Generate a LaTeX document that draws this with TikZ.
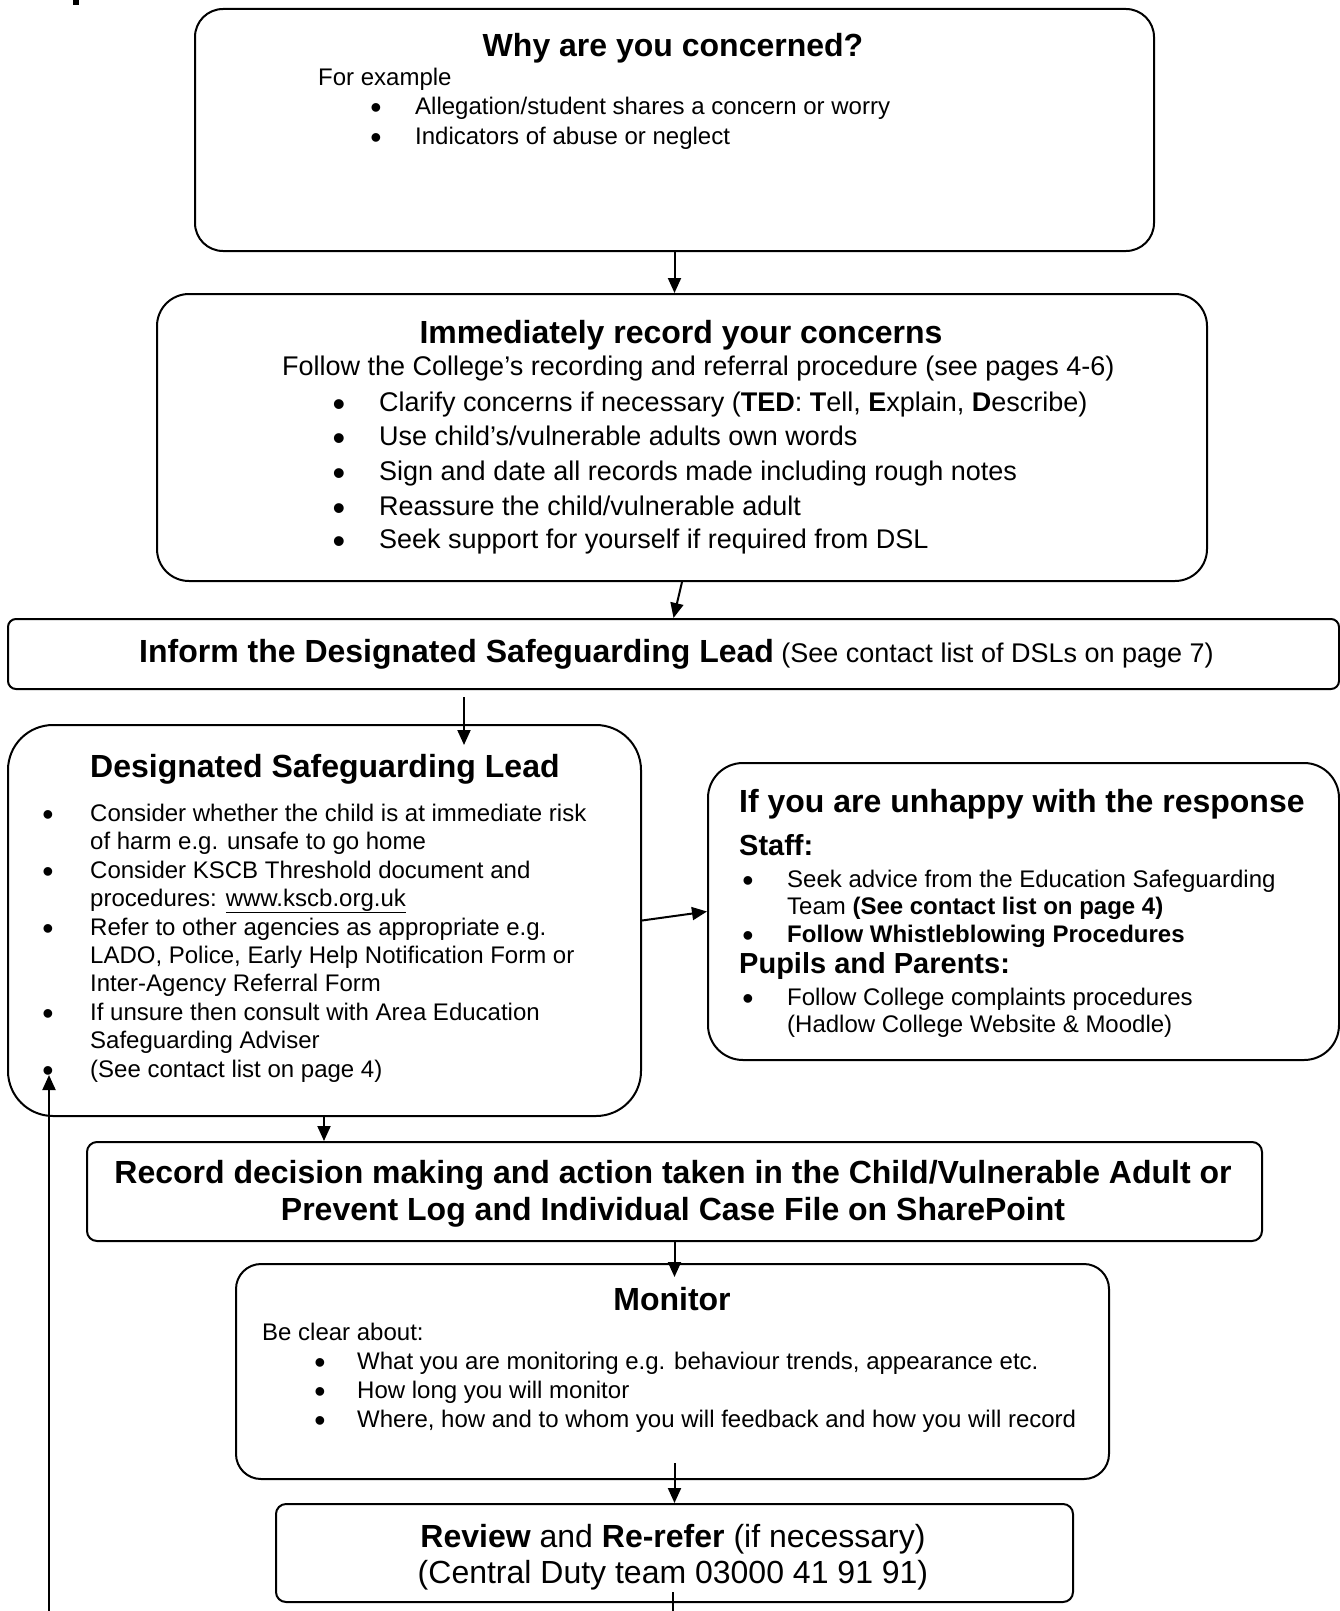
\documentclass[tikz,border=0pt]{standalone}
\usepackage{fontspec}
\setmainfont{Liberation Sans}
\usetikzlibrary{arrows.meta,calc}
\newcommand\fhead{\fontsize{32}{37}\selectfont\bfseries}
\newcommand\fsubh{\fontsize{29}{34}\selectfont\bfseries}
\newcommand\fbody{\fontsize{24}{28}\selectfont}
\newcommand\fmid{\fontsize{27}{32}\selectfont}
\tikzset{
  box/.style={draw, line width=2pt, anchor=north west, inner sep=0pt},
  txt/.style={inner sep=0pt, anchor=base west},
  ctxt/.style={inner sep=0pt, anchor=base},
  bul/.style={inner sep=0pt, anchor=base, yshift=-4pt, font=\fontsize{32}{32}\selectfont},
  bulm/.style={inner sep=0pt, anchor=base, yshift=-5pt, font=\fontsize{36}{36}\selectfont},
  arr/.style={line width=2pt, -{Triangle[length=15pt,width=13pt]}},
  conn/.style={line width=2pt},
}
\begin{document}
\begin{tikzpicture}[x=1pt,y=-1pt]
\useasboundingbox (0,0) rectangle (1339,1611);
\fill (73,0) rectangle (79,5);

% boxes
\node[box, rounded corners=28pt, minimum width=959pt, minimum height=242pt] (b1) at (194,8) {};
\node[box, rounded corners=32pt, minimum width=1050pt, minimum height=287pt] (b2) at (156,293) {};
\node[box, rounded corners=8pt, minimum width=1331pt, minimum height=70pt] (b3) at (7,618) {};
\node[box, rounded corners=45pt, minimum width=633pt, minimum height=391pt] (b4) at (7,724) {};
\node[box, rounded corners=35pt, minimum width=631pt, minimum height=297pt] (b5) at (707,762) {};
\node[box, rounded corners=10pt, minimum width=1175pt, minimum height=99pt] (b6) at (86,1141) {};
\node[box, rounded corners=25pt, minimum width=873pt, minimum height=215pt] (b7) at (235,1263) {};
\node[box, rounded corners=10pt, minimum width=797pt, minimum height=98pt] (b8) at (275,1503) {};

% box 1
\node[ctxt, font=\fhead] (t1h) at (673,57) {Why are you concerned?};
\node[txt, font=\fbody] (t1a) at (318,85) {For example};
\node[bul] (t1b1) at (376,114) {•};
\node[txt, font=\fbody] (t1b) at (415,114) {Allegation/student shares a concern or worry};
\node[bul] (t1c1) at (376,144) {•};
\node[txt, font=\fbody] (t1c) at (415,144) {Indicators of abuse or neglect};

% box 2
\node[ctxt, font=\fhead] (t2h) at (681,343) {Immediately record your concerns};
\node[txt, font=\fmid] (t2a) at (282,375) {Follow the College’s recording and referral procedure (see pages 4-6)};
\node[bulm] (t2b1) at (339,411) {•};
\node[txt, font=\fmid] (t2b) at (379,411) {Clarify concerns if necessary (\textbf{TED}: \textbf{T}ell, \textbf{E}xplain, \textbf{D}escribe)};
\node[bulm] (t2c1) at (339,445) {•};
\node[txt, font=\fmid] (t2c) at (379,445) {Use child’s/vulnerable adults own words};
\node[bulm] (t2d1) at (339,480) {•};
\node[txt, font=\fmid] (t2d) at (379,480) {Sign and date all records made including rough notes};
\node[bulm] (t2e1) at (339,515) {•};
\node[txt, font=\fmid] (t2e) at (379,515) {Reassure the child/vulnerable adult};
\node[bulm] (t2f1) at (339,548) {•};
\node[txt, font=\fmid] (t2f) at (379,548) {Seek support for yourself if required from DSL};

% box 3
\node[txt] (t3) at (139,662) {\fhead Inform the Designated Safeguarding Lead\fmid\mdseries{} (See contact list of DSLs on page 7)};

% box 4
\node[txt, font=\fhead] (t4h) at (90,777) {Designated Safeguarding Lead};
\node[bul] (bl1) at (48,821) {•};
\node[txt, font=\fbody] (t4a) at (90,821) {Consider whether the child is at immediate risk};
\node[txt, font=\fbody] (t4b) at (90,849) {of harm e.g. unsafe to go home};
\node[bul] (bl2) at (48,878) {•};
\node[txt, font=\fbody] (t4c) at (90,878) {Consider KSCB Threshold document and};
\node[txt, font=\fbody] (t4d) at (90,906) {procedures: \underline{www.kscb.org.uk}};
\node[bul] (bl3) at (48,935) {•};
\node[txt, font=\fbody] (t4e) at (90,935) {Refer to other agencies as appropriate e.g.};
\node[txt, font=\fbody] (t4f) at (90,963) {LADO, Police, Early Help Notification Form or};
\node[txt, font=\fbody] (t4g) at (90,991) {Inter-Agency Referral Form};
\node[bul] (bl4) at (48,1020) {•};
\node[txt, font=\fbody] (t4h2) at (90,1020) {If unsure then consult with Area Education};
\node[txt, font=\fbody] (t4i) at (90,1048) {Safeguarding Adviser};
\node[bul] (bl5) at (48,1077) {•};
\node[txt, font=\fbody] (t4j) at (90,1077) {(See contact list on page 4)};

% box 5
\node[txt, font=\fhead] (t5h) at (739,812) {If you are unhappy with the response};
\node[txt, font=\fsubh] (t5s) at (739,855) {Staff:};
\node[bul] (t5a1) at (748,887) {•};
\node[txt, font=\fbody] (t5a) at (787,887) {Seek advice from the Education Safeguarding};
\node[txt, font=\fbody] (t5b) at (787,914) {Team \textbf{(See contact list on page 4)}};
\node[bul] (t5c1) at (748,942) {•};
\node[txt, font=\fbody\bfseries] (t5c) at (787,942) {Follow Whistleblowing Procedures};
\node[txt, font=\fsubh] (t5p) at (739,973) {Pupils and Parents:};
\node[bul] (t5d1) at (748,1005) {•};
\node[txt, font=\fbody] (t5d) at (787,1005) {Follow College complaints procedures};
\node[txt, font=\fbody] (t5e) at (787,1032) {(Hadlow College Website \& Moodle)};

% box 6
\node[ctxt, font=\fhead] (t6a) at (673,1183) {Record decision making and action taken in the Child/Vulnerable Adult or};
\node[ctxt, font=\fhead] (t6b) at (673,1220) {Prevent Log and Individual Case File on SharePoint};

% box 7
\node[ctxt, font=\fhead] (t7h) at (672,1310) {Monitor};
\node[txt, font=\fbody] (t7a) at (262,1340) {Be clear about:};
\node[bul] (t7b1) at (320,1369) {•};
\node[txt, font=\fbody] (t7b) at (357,1369) {What you are monitoring e.g. behaviour trends, appearance etc.};
\node[bul] (t7c1) at (320,1398) {•};
\node[txt, font=\fbody] (t7c) at (357,1398) {How long you will monitor};
\node[bul] (t7d1) at (320,1427) {•};
\node[txt, font=\fbody] (t7d) at (357,1427) {Where, how and to whom you will feedback and how you will record};

% box 8
\node[ctxt, font=\fontsize{32}{37}\selectfont] (t8a) at (673,1547) {\textbf{Review} and \textbf{Re-refer} (if necessary)};
\node[ctxt, font=\fontsize{32}{37}\selectfont] (t8b) at (673,1583) {(Central Duty team 03000 41 91 91)};

% connectors
\coordinate (j3) at (464,745);
\coordinate (j5) at (324,1141);
\coordinate (e1) at (673,1611);
\coordinate (e2) at (49,1611);
\coordinate (tip) at (49,1075);
\draw[arr] (b1.south) -- (b1.south |- b2.north);
\draw[arr] (b2.south) -- (b3.north);
\draw[arr] ($(b3.south -| j3)+(0,7)$) -- (j3);
\draw[arr] (b4.east) -- (b5.west);
\draw[arr] (b4.south -| j5) -- (j5);
\draw[arr] (b6.south) -- ($(b6.south |- b7.north)+(0,14)$);
\draw[arr] ($(b8.north |- b7.south)+(0,-17)$) -- (b8.north);
\draw[conn] ($(e1 |- b8.south)+(0,-11)$) -- (e1);
\draw[arr] (e2) -- (tip);
\end{tikzpicture}
\end{document}
